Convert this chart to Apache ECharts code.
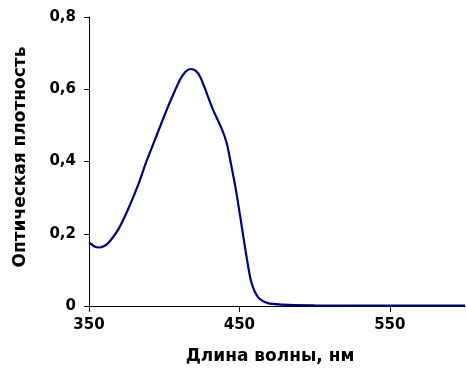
<!DOCTYPE html>
<html>
<head>
<meta charset="utf-8">
<script src="https://cdn.jsdelivr.net/npm/echarts@6/dist/echarts.min.js"></script>
<style>
  html, body { margin: 0; padding: 0; background: #fff; }
  #chart { width: 466px; height: 370px; }
</style>
</head>
<body>
<div id="chart"></div>
<script>
// Absorption spectrum: wavelength (nm) vs optical density
const wavelengths = [350, 354, 357, 361, 364, 369.5, 376, 383, 388, 394, 399, 404, 410.5, 414, 417.5, 421, 424, 428, 432.5, 438, 441.5, 444, 448, 451.5, 455, 458, 462.5, 469, 478, 500, 550, 600];
const density     = [0.176, 0.164, 0.162, 0.168, 0.180, 0.212, 0.268, 0.339, 0.398, 0.462, 0.515, 0.566, 0.626, 0.648, 0.656, 0.651, 0.634, 0.592, 0.543, 0.493, 0.452, 0.402, 0.314, 0.222, 0.130, 0.065, 0.024, 0.008, 0.004, 0.002, 0.001, 0.001];
const xTicks = [350, 450, 550];

const font = 'Verdana, "DejaVu Sans", sans-serif';
const chart = echarts.init(document.getElementById('chart'), null, { renderer: 'canvas' });

chart.setOption({
  animation: false,
  grid: { left: 89, right: 1, top: 17, bottom: 63, containLabel: false },
  xAxis: {
    type: 'value',
    min: 350,
    max: 600,
    name: 'Длина волны, нм',
    nameLocation: 'middle',
    nameGap: 42,
    nameTextStyle: { fontFamily: font, fontWeight: 'bold', fontSize: 17, color: '#000', padding: [0, 14, 0, 0] },
    axisLine: { show: true, onZero: false, lineStyle: { color: '#000', width: 1 } },
    axisTick: { show: true, inside: false, length: 6, customValues: xTicks, lineStyle: { color: '#000' } },
    axisLabel: { customValues: xTicks, margin: 12, fontFamily: font, fontWeight: 'bold', fontSize: 15, color: '#000' },
    splitLine: { show: false }
  },
  yAxis: {
    type: 'value',
    min: 0,
    max: 0.8,
    interval: 0.2,
    name: 'Оптическая плотность',
    nameLocation: 'middle',
    nameRotate: 90,
    nameGap: 60,
    nameTextStyle: { fontFamily: font, fontWeight: 'bold', fontSize: 17, color: '#000', padding: [0, 0, 0, 9] },
    axisLine: { show: true, onZero: false, lineStyle: { color: '#000', width: 1 } },
    axisTick: { show: true, inside: false, length: 5, lineStyle: { color: '#000' } },
    axisLabel: {
      margin: 13,
      fontFamily: font, fontWeight: 'bold', fontSize: 15, color: '#000',
      formatter: v => (Math.round(v * 10) / 10).toString().replace('.', ',')
    },
    splitLine: { show: false }
  },
  series: [{
    type: 'line',
    data: wavelengths.map((w, i) => [w, density[i]]),
    smooth: 0.25,
    showSymbol: false,
    lineStyle: { color: '#000080', width: 2.2 }
  }]
});
</script>
</body>
</html>
